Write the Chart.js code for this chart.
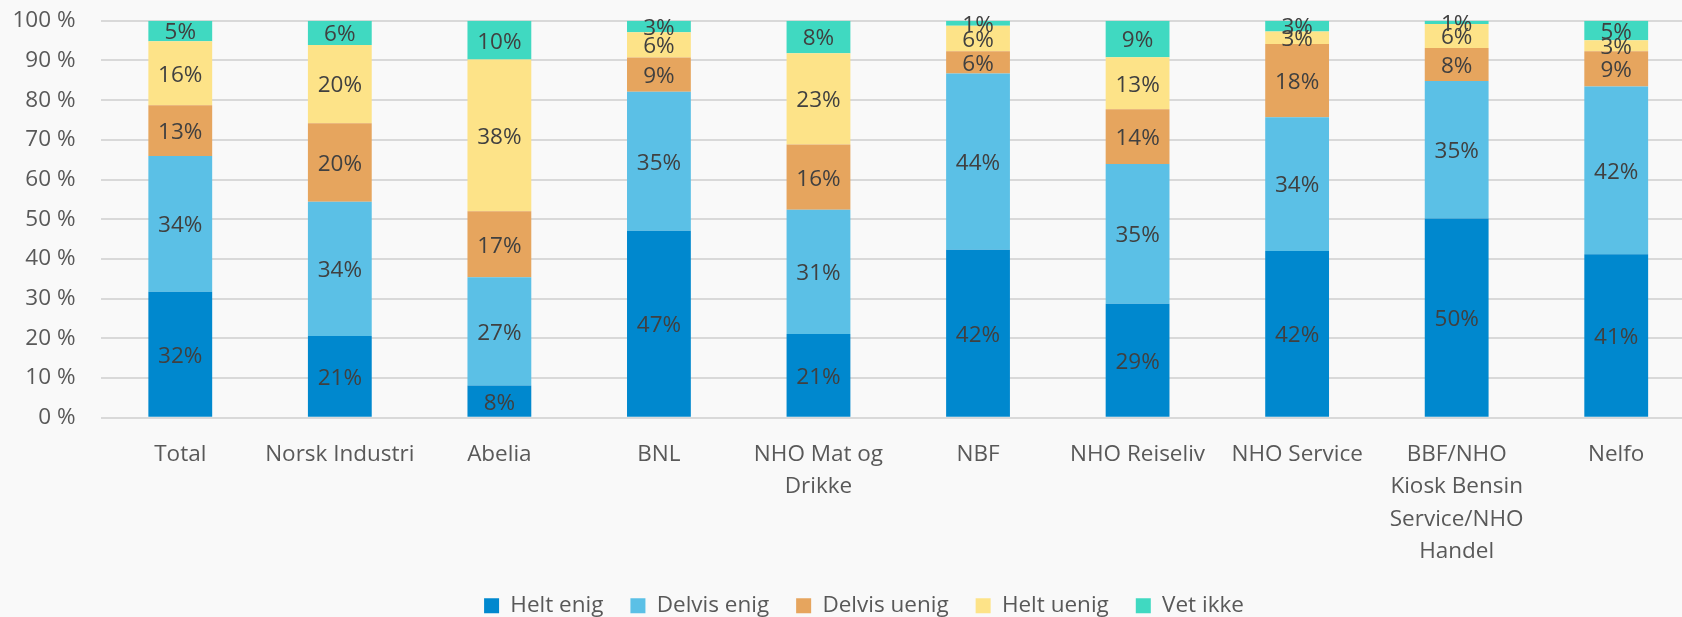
<!DOCTYPE html>
<html>
<head>
<meta charset="utf-8">
<script src="https://cdn.jsdelivr.net/npm/chart.js@4/dist/chart.umd.min.js"></script>
<style>
  html, body { margin: 0; padding: 0; background: #f9f9f9; overflow: hidden; }
  #wrap { width: 1696px; height: 617px; position: relative; }
</style>
</head>
<body>
<div id="wrap"><canvas id="chart"></canvas></div>
<script>
let categories = ['Total', 'Norsk Industri', 'Abelia', 'BNL', ['NHO Mat og', 'Drikke'], 'NBF',
  'NHO Reiseliv', 'NHO Service', ['BBF/NHO', 'Kiosk Bensin', 'Service/NHO', 'Handel'], 'Nelfo'];

let heltEnig    = [31.7, 20.6,  8.1, 47.1, 21.1, 42.3, 28.7, 42.0, 50.2, 41.2];
let delvisEnig  = [34.2, 33.8, 27.3, 35.0, 31.3, 44.4, 35.2, 33.7, 34.6, 42.2];
let delvisUenig = [12.8, 19.8, 16.6,  8.6, 16.4,  5.6, 13.8, 18.4,  8.3,  8.9];
let heltUenig   = [16.1, 19.7, 38.2,  6.4, 23.0,  6.4, 13.1,  3.2,  6.1,  2.8];
let vetIkke     = [ 5.2,  6.1,  9.8,  2.9,  8.2,  1.3,  9.2,  2.7,  0.8,  4.9];

let yTicks = [0, 10, 20, 30, 40, 50, 60, 70, 80, 90, 100];

let font = "'Open Sans', 'Noto Sans', sans-serif";

// draws the rounded value in the middle of each segment
let segmentLabels = {
  id: 'segmentLabels',
  afterDatasetsDraw: (chart) => {
    let ctx = chart.ctx;
    ctx.save();
    ctx.font = `22.5px ${font}`;
    ctx.fillStyle = '#404040';
    ctx.textAlign = 'center';
    ctx.textBaseline = 'middle';
    chart.data.datasets.forEach((ds, i) => {
      let meta = chart.getDatasetMeta(i);
      meta.data.forEach((bar, j) => {
        let v = ds.data[j];
        ctx.fillText(Math.round(v) + '%', bar.x, (bar.y + bar.base) / 2 + 2);
      });
    });
    ctx.restore();
  }
};

// legend sits a bit right of the canvas centre
let legendShift = {
  id: 'legendShift',
  afterLayout: (chart) => {
    let l = chart.legend;
    l.left += 16; l.right += 16;
  }
};

let canvas = document.getElementById('chart').getContext('2d');

let chart = new Chart(canvas, {
  type: 'bar',
  data: {
    labels: categories,
    datasets: [
      { label: 'Helt enig', data: heltEnig, backgroundColor: '#0088ce' },
      { label: 'Delvis enig', data: delvisEnig, backgroundColor: '#5bc0e6' },
      { label: 'Delvis uenig', data: delvisUenig, backgroundColor: '#e6a55e' },
      { label: 'Helt uenig', data: heltUenig, backgroundColor: '#fde388' },
      { label: 'Vet ikke', data: vetIkke, backgroundColor: '#40d9c1' }
    ]
  },
  options: {
    responsive: true,
    maintainAspectRatio: false,
    animation: false,
    layout: { padding: { top: 20.7, left: 0, right: 0, bottom: -10 } },
    datasets: { bar: { barPercentage: 0.4, categoryPercentage: 1 } },
    plugins: {
      tooltip: { enabled: false },
      legend: {
        position: 'bottom',
        labels: {
          boxWidth: 15,
          boxHeight: 15,
          padding: 27,
          color: '#595959',
          font: { family: font, size: 22.5 }
        }
      }
    },
    scales: {
      x: {
        stacked: true,
        grid: { display: false, drawTicks: false },
        border: { display: false },
        ticks: {
          color: '#595959',
          autoSkip: false,
          maxRotation: 0,
          padding: 21,
          font: { family: font, size: 22.5, lineHeight: 1.43 }
        },
        afterFit: (scale) => { scale.height = 149.8; }
      },
      y: {
        stacked: true,
        min: 0,
        max: 100,
        afterBuildTicks: (scale) => { scale.ticks = yTicks.map(v => ({ value: v })); },
        grid: { color: '#d9d9d9', lineWidth: 2, drawTicks: false },
        border: { display: false },
        ticks: {
          color: '#595959',
          padding: 25,
          font: { family: font, size: 22.5 },
          callback: (v) => v + ' %'
        },
        afterFit: (scale) => {
          scale.width = 100.5;
          scale.paddingTop = 0;
          scale.paddingBottom = 0;
        }
      }
    }
  },
  plugins: [segmentLabels, legendShift]
});
</script>
</body>
</html>
